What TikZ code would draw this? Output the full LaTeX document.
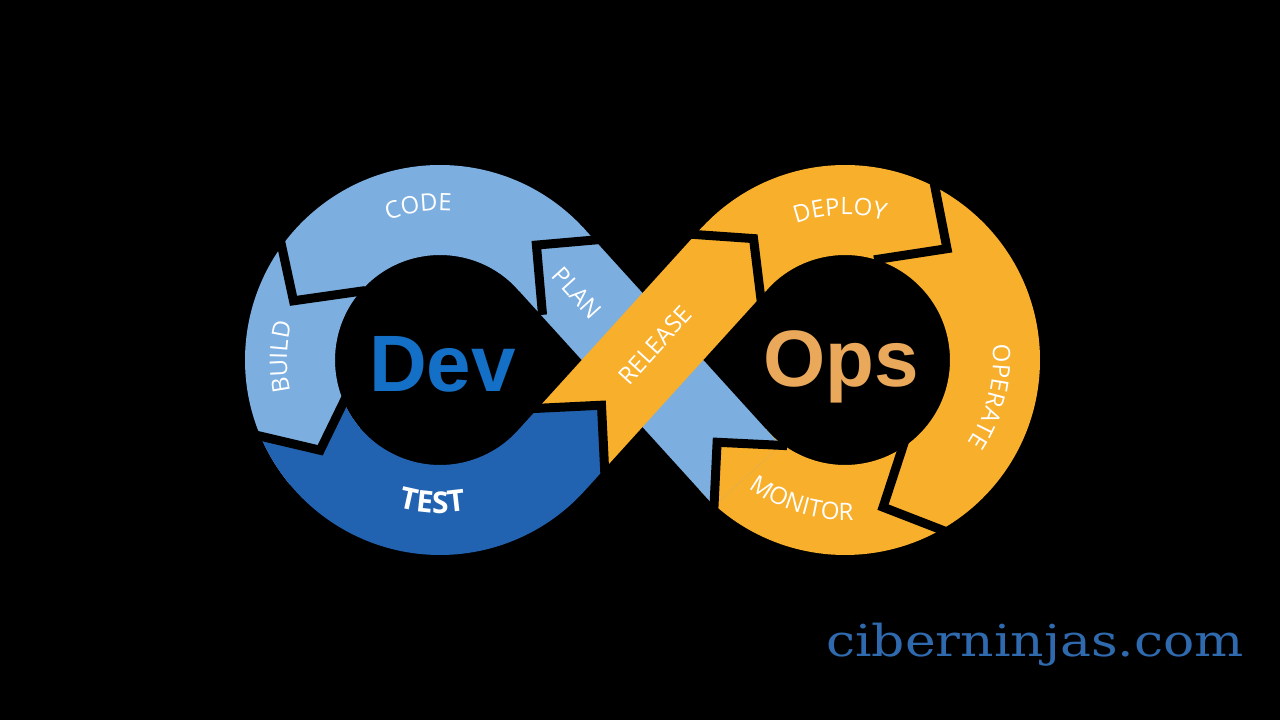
\documentclass[tikz,border=0pt]{standalone}
\usepackage{fontspec}
\setmainfont{Open Sans}
\newfontfamily\labelfont{Open Sans}
\newfontfamily\bigfont{Liberation Sans}
\newfontfamily\wmfont{DejaVu Serif}
\usetikzlibrary{calc,decorations.text}
\definecolor{lblue}{HTML}{7CAEDF}
\definecolor{dblue}{HTML}{2163B1}
\definecolor{orng}{HTML}{F8AF2B}
\definecolor{devblue}{HTML}{1470C6}
\definecolor{opsorange}{HTML}{EAA85B}
\definecolor{wmblue}{HTML}{2F6AAE}
\begin{document}
\begin{tikzpicture}[x=1pt,y=1pt,
  band/.style={line width=90pt},
  gap/.style={draw=black,line width=9pt,line join=miter},
  lbl/.style={text=white,font=\labelfont\fontsize{24}{24}\selectfont},
  arclbl/.style={decorate,decoration={text along path,text align=center,text color=white,text={#1}}},
]
\fill[black] (0,0) rectangle (1280,720);
\useasboundingbox (0,0) rectangle (1280,720);
\coordinate (L) at (440,360);
\coordinate (R) at (845,360);
\coordinate (T1) at ($(L)+(-42.21:150)$);
\coordinate (T2) at ($(R)+(137.79:150)$);
\coordinate (T3) at ($(R)+(222.21:150)$);
\coordinate (T4) at ($(L)+(42.21:150)$);

% left ring (light blue) and right ring (orange)
\draw[band,lblue] ($(L)+(41.5:150)$) arc[start angle=41.5,end angle=220,radius=150];
\draw[band,orng] ($(R)+(138.5:150)$) arc[start angle=138.5,end angle=-138.5,radius=150];

% band A (PLAN)
\draw[band,lblue] ($(T3)!-20pt!(T4)$) -- ($(T4)!-2pt!(T3)$);
\coordinate (AM) at ($(T3)!25pt!(T4)$);
\fill[orng] ($(AM)+(267.21:63.64)$) -- (AM) -- ($(AM)+(-2.79:63.64)$) -- cycle;

% band B (RELEASE), on top
\draw[band,orng] ($(T1)!28pt!(T2)$) -- ($(T2)!-2pt!(T1)$);

% TEST region
\coordinate (AT) at ($(T1)+(47.79:75)$);
\fill[dblue] ($(L)+(203:195)$) arc[start angle=203,end angle=317.79,radius=195]
  -- ($(AT)+(-87.21:63.64)$) -- (AT) -- ($(AT)+(182.79:63.64)$)
  -- ($(L)+(317.79:105)$) arc[start angle=317.79,end angle=203.5,radius=105]
  -- ($(L)+(217:150)$) -- cycle;

% chevron gaps
\coordinate (C1) at ($(L)+(50:150)$);
\draw[gap] ($(C1)+(5:70)$) -- (C1) -- ($(C1)+(275:70)$);
\coordinate (C2) at ($(L)+(158:158)$);
\coordinate (C2o) at ($(L)+(143:200)$);
\coordinate (C2i) at ($(L)+(142:110)$);
\draw[gap] ($(C2)!1.12!(C2o)$) -- (C2) -- ($(C2)!1.2!(C2i)$);
\coordinate (C3) at ($(L)+(217:150)$);
\coordinate (C3o) at ($(L)+(203:195)$);
\coordinate (C3i) at ($(L)+(203.5:105)$);
\draw[gap] ($(C3)!1.12!(C3o)$) -- (C3) -- ($(C3)!1.2!(C3i)$);
\draw[gap] ($(AT)+(-87.21:70)$) -- (AT) -- ($(AT)+(182.79:70)$);
\coordinate (C5) at ($(R)+(127:152)$);
\draw[gap] ($(C5)+(176:70)$) -- (C5) -- ($(C5)+(-83:70)$);
\coordinate (C6) at ($(R)+(47.5:151)$);
\coordinate (C6o) at ($(R)+(63:197)$);
\coordinate (C6i) at ($(R)+(68:110)$);
\draw[gap] ($(C6)!1.12!(C6o)$) -- (C6) -- ($(C6)!1.2!(C6i)$);
\coordinate (C7) at ($(R)+(-75.5:152)$);
\coordinate (C7o) at ($(R)+(-60:197)$);
\coordinate (C7i) at ($(R)+(-57.5:106)$);
\draw[gap] ($(C7)!1.12!(C7o)$) -- (C7) -- ($(C7)!1.2!(C7i)$);
\draw[gap] ($(AM)+(267.21:70)$) -- (AM) -- ($(AM)+(-2.79:70)$);

% ring labels
\path[arclbl={|\labelfont\fontsize{24}{24}\selectfont|CODE}] ($(L)+(128:149)$) arc[start angle=128,end angle=68,radius=149];
\path[arclbl={|\labelfont\fontsize{24}{24}\selectfont|BUILD}] ($(L)+(209:153)$) arc[start angle=209,end angle=149,radius=153];
\path[arclbl={|\labelfont\bfseries\fontsize{30}{30}\selectfont|TEST}] ($(L)+(232:153)$) arc[start angle=232,end angle=302,radius=153];
\path[arclbl={|\labelfont\fontsize{24}{24}\selectfont|DEPLOY}] ($(R)+(122:145)$) arc[start angle=122,end angle=62,radius=145];
\path[arclbl={|\labelfont\fontsize{24}{24}\selectfont|OPERATE}] ($(R)+(16:148)$) arc[start angle=16,end angle=-44,radius=148];
\path[arclbl={|\labelfont\fontsize{24}{24}\selectfont|MONITOR}] ($(R)+(222:160)$) arc[start angle=222,end angle=284,radius=160];
\node[lbl,rotate=-47.79] (plan) at (577,427) {PLAN};
\node[lbl,rotate=47.79] (release) at (655,375) {RELEASE};

% centre words
\node[font=\bigfont\bfseries\fontsize{80}{80}\selectfont,text=devblue,anchor=base] (dev) at (442.5,328) {Dev};
\node[font=\bigfont\bfseries\fontsize{80}{80}\selectfont,text=opsorange,anchor=base] (ops) at (841,333) {Ops};

% watermark
\node[font=\wmfont\fontsize{44}{44}\selectfont,text=wmblue,anchor=base] (wm) at (1035,63) {\scalebox{1.18}[1]{ciberninjas.com}};
\end{tikzpicture}
\end{document}
